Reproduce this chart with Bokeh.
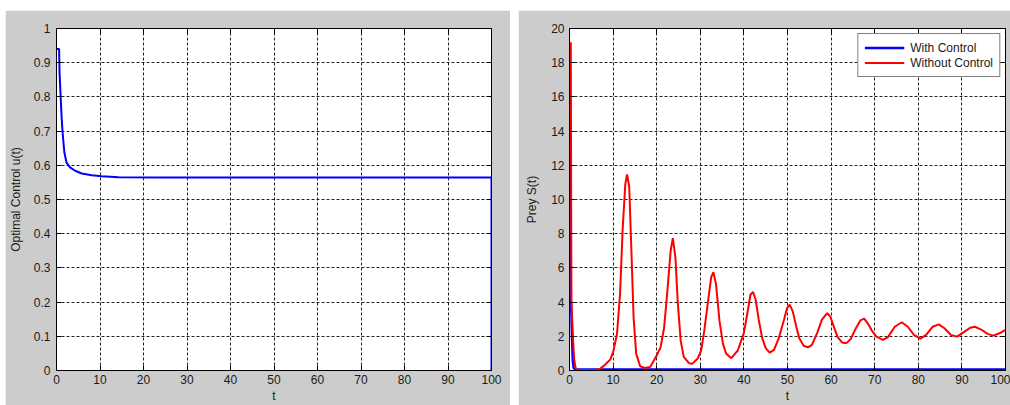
from bokeh.plotting import figure
from bokeh.models import Range1d, FixedTicker, CustomJSTickFormatter, LinearAxis, Legend, LegendItem
from bokeh.layouts import row
from bokeh.embed import file_html
from bokeh.resources import INLINE

# ---------------- data ----------------
x_ticks = [0, 10, 20, 30, 40, 50, 60, 70, 80, 90, 100]
left_y_ticks = [0, 0.1, 0.2, 0.3, 0.4, 0.5, 0.6, 0.7, 0.8, 0.9, 1.0]
right_y_ticks = [0, 2, 4, 6, 8, 10, 12, 14, 16, 18, 20]

# Optimal control u(t)
t_u = [0, 0.6, 0.7, 0.98, 1.2, 1.4, 1.8, 2.3, 3.1, 4.3, 5.8, 8.1, 10.4, 14.3, 24, 100, 100]
u_vals = [0.94, 0.94, 0.871, 0.793, 0.735, 0.696, 0.638, 0.608, 0.594, 0.584, 0.576,
          0.571, 0.568, 0.565, 0.564, 0.564, 0.0]

# Prey S(t) with control
t_with = [0.1, 0.12, 0.15, 0.25, 0.45, 0.6, 0.75, 0.95, 1.3, 2.0, 100]
s_with = [16, 10, 6.9, 4.5, 3.2, 1.8, 0.6, 0.15, 0.06, 0.06, 0.06]

# Prey S(t) without control
t_without = [0.3, 0.38, 0.45, 0.62, 0.85, 1.1, 1.4, 1.8, 2.5, 3, 4, 5, 6, 7, 8, 8.6, 9.4,
             10.1, 10.9, 11.6, 12.2, 12.8, 13.2, 13.7, 14.2, 14.7, 15.3, 16.2, 17.2,
             18.5, 20, 20.9, 21.7, 22.4, 23.2, 23.7, 24.3, 24.8, 25.5, 26.2, 27.4,
             28.2, 29.4, 30.2, 30.9, 31.7, 32.5, 33.0, 33.6, 34.4, 35.2, 35.9, 37.1,
             38.6, 40.0, 40.8, 41.5, 42.1, 42.7, 43.4, 44.2, 45.0, 45.9, 46.9, 48.0,
             49.2, 49.9, 50.5, 51.2, 52.0, 52.7, 53.7, 54.7, 55.6, 56.8, 57.9, 59.1,
             59.8, 60.6, 61.5, 62.5, 63.5, 64.5, 65.5, 66.7, 67.6, 68.6, 69.3, 70.4,
             71.9, 73.0, 74.6, 76.2, 77.6, 79.0, 80.5, 81.8, 83.3, 84.7, 86.0, 87.5,
             88.9, 90.6, 91.9, 93.0, 94.3, 95.9, 97.2, 98.9, 100]
s_without = [19.2, 10, 4, 3.0, 1.6, 0.6, 0.15, 0.05, 0.03, 0.03, 0.03, 0.03, 0.04, 0.1,
             0.3, 0.45, 0.65, 1.17, 2.15, 4.5, 8.3, 10.9, 11.46, 10.75, 7.0, 3.1, 0.97,
             0.25, 0.15, 0.2, 0.88, 1.37, 2.5, 4.5, 7.0, 7.74, 6.6, 4.1, 1.75, 0.8,
             0.43, 0.4, 0.7, 1.17, 2.3, 3.9, 5.46, 5.75, 5.07, 2.9, 1.56, 1.0, 0.72,
             1.17, 2.2, 3.36, 4.43, 4.59, 4.14, 2.97, 1.89, 1.31, 1.05, 1.21, 1.89,
             2.97, 3.65, 3.85, 3.46, 2.58, 1.89, 1.45, 1.35, 1.5, 2.19, 2.97, 3.36,
             3.16, 2.58, 1.95, 1.64, 1.6, 1.84, 2.38, 2.93, 3.03, 2.68, 2.35, 1.98,
             1.79, 1.94, 2.56, 2.82, 2.56, 2.08, 1.86, 2.08, 2.56, 2.7, 2.47, 2.08,
             1.98, 2.27, 2.5, 2.56, 2.41, 2.14, 2.04, 2.21, 2.37]

FONT = "Liberation Sans"
GRAY = "#cccccc"
TXT = "#1a1a1a"


def style(p, yticks, ylabel, ylabel_standoff, ylab_label_standoff):
    p.background_fill_color = "white"
    p.border_fill_color = GRAY
    p.outline_line_color = "black"
    p.outline_line_width = 1
    p.xaxis.ticker = FixedTicker(ticks=x_ticks)
    p.yaxis.ticker = FixedTicker(ticks=yticks)
    p.xgrid.ticker = FixedTicker(ticks=x_ticks)
    p.ygrid.ticker = FixedTicker(ticks=yticks)
    for ax in (p.xaxis[0], p.yaxis[0]):
        ax.formatter = CustomJSTickFormatter(code="return Number(tick.toFixed(2)).toString();")
        ax.major_tick_in = 5
        ax.major_tick_out = 0
        ax.minor_tick_line_color = None
        ax.axis_line_color = "black"
        ax.major_tick_line_color = "black"
        ax.major_label_text_font = FONT
        ax.major_label_text_font_size = "12px"
        ax.major_label_text_color = TXT
        ax.axis_label_text_font = FONT
        ax.axis_label_text_font_size = "12px"
        ax.axis_label_text_font_style = "normal"
        ax.axis_label_text_color = TXT
    p.xaxis.axis_label = "t"
    p.xaxis.major_label_standoff = 4
    p.xaxis.axis_label_standoff = 2
    p.yaxis.axis_label = ylabel
    p.yaxis.major_label_standoff = ylab_label_standoff
    p.yaxis.axis_label_standoff = ylabel_standoff
    p.grid.grid_line_color = "#222222"
    p.grid.grid_line_dash = "3 2"
    p.grid.grid_line_width = 1
    # MATLAB-style box ticks on top and right
    top = LinearAxis(ticker=FixedTicker(ticks=x_ticks),
                     formatter=CustomJSTickFormatter(code="return '';"),
                     major_tick_in=5, major_tick_out=0, major_label_standoff=0,
                     minor_tick_line_color=None, axis_line_color="black")
    right = LinearAxis(ticker=FixedTicker(ticks=yticks),
                       formatter=CustomJSTickFormatter(code="return '';"),
                       major_tick_in=5, major_tick_out=0, major_label_standoff=0,
                       minor_tick_line_color=None, axis_line_color="black")
    p.add_layout(top, "above")
    p.add_layout(right, "right")


# ---------------- left panel ----------------
p1 = figure(width=505, height=395, output_backend="svg", toolbar_location=None,
            x_range=Range1d(0, 100), y_range=Range1d(0, 1),
            min_border_left=50, min_border_right=19, min_border_top=17, min_border_bottom=35)
p1.margin = (10, 0, 0, 5)
p1.line(t_u, u_vals, line_color="#0000ff", line_width=2)
style(p1, left_y_ticks, "Optimal Control u(t)", 8, 6)

# ---------------- right panel ----------------
p2 = figure(width=492, height=395, output_backend="svg", toolbar_location=None,
            x_range=Range1d(0, 100), y_range=Range1d(0, 20),
            min_border_left=51, min_border_right=5, min_border_top=18, min_border_bottom=35)
p2.margin = (10, 0, 0, 8)
rb = p2.line(t_with, s_with, line_color="#0000ff", line_width=2.5)
rr = p2.line(t_without, s_without, line_color="#ff0000", line_width=2)
style(p2, right_y_ticks, "Prey S(t)", 9, 5)

legend = Legend(items=[LegendItem(label="With Control", renderers=[rb]),
                       LegendItem(label="Without Control", renderers=[rr])],
                location="top_right")
legend.border_line_color = "black"
legend.border_line_width = 1
legend.background_fill_color = "white"
legend.background_fill_alpha = 1
legend.label_text_font = FONT
legend.label_text_font_size = "12px"
legend.label_text_color = TXT
legend.glyph_width = 40
legend.glyph_height = 15
legend.label_height = 15
legend.label_standoff = 6
legend.padding = 6
legend.spacing = 0
legend.margin = 5
p2.add_layout(legend)

layout = row(p1, p2)

open("out.html", "w").write(file_html(layout, INLINE))
